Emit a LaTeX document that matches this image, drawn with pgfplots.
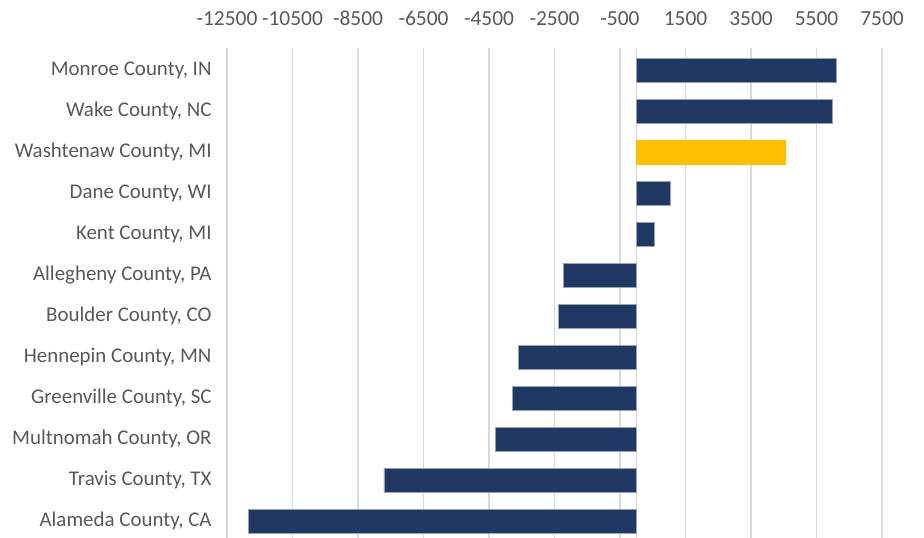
\documentclass[border=0pt]{standalone}
\usepackage{pgfplots}
\pgfplotsset{compat=1.18}
\usepackage{fontspec}
\setmainfont{Carlito}
\definecolor{navy}{HTML}{203864}
\definecolor{gold}{HTML}{FFC000}
\definecolor{gridc}{HTML}{D9D9D9}
\definecolor{txt}{HTML}{595959}
\begin{document}
\begin{tikzpicture}
\useasboundingbox (0,0) rectangle (924bp,538bp);
\begin{axis}[
  at={(227bp,0bp)}, anchor=south west,
  scale only axis, width=655bp, height=490bp,
  xbar, bar width=0.585, bar shift=0pt,
  xmin=-12500, xmax=7500,
  ymin=-0.415, ymax=11.54,
  xtick={-12500,-10500,-8500,-6500,-4500,-2500,-500,1500,3500,5500,7500},
  xticklabels={-12500,-10500,-8500,-6500,-4500,-2500,-500,1500,3500,5500,7500},
  xticklabel pos=upper,
  ytick={0,...,11},
  yticklabels={{Alameda County, CA},{Travis County, TX},{Multnomah County, OR},{Greenville County, SC},{Hennepin County, MN},{Boulder County, CO},{Allegheny County, PA},{Kent County, MI},{Dane County, WI},{Washtenaw County, MI},{Wake County, NC},{Monroe County, IN}},
  xmajorgrids, major grid style={draw=gridc, line width=1.2bp},
  axis line style={draw=none},
  tick style={draw=none},
  ticklabel style={font=\fontsize{21}{25}\selectfont, text=txt},
  xticklabel style={font=\fontsize{21.5}{25}\selectfont, anchor=base, inner sep=0pt, yshift=22bp},
  yticklabel style={anchor=east, inner sep=0pt, xshift=-11bp},
  clip=false,
]
\draw[gridc, line width=1.2bp] (axis cs:0,-0.415) -- (axis cs:0,11.54);
\addplot[fill=navy, draw={rgb,255:red,150;green,162;blue,185}, line width=0.6bp] coordinates {
  (-11850,0) (-7710,1) (-4300,2) (-3780,3) (-3595,4) (-2385,5) (-2240,6)
  (550,7) (1050,8) (5985,10) (6115,11)
};
\addplot[fill=gold, draw=gold, line width=0.6bp] coordinates {(4560,9)};
\end{axis}
\end{tikzpicture}
\end{document}
